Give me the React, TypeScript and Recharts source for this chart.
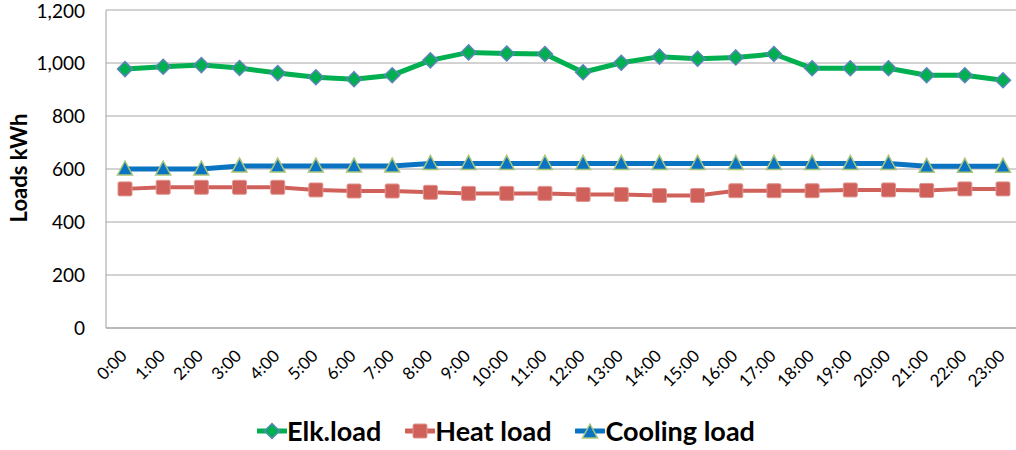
import { LineChart, Line, XAxis, YAxis, CartesianGrid, Label } from 'recharts';

const hours = [
  '0:00', '1:00', '2:00', '3:00', '4:00', '5:00', '6:00', '7:00', '8:00', '9:00', '10:00', '11:00',
  '12:00', '13:00', '14:00', '15:00', '16:00', '17:00', '18:00', '19:00', '20:00', '21:00', '22:00', '23:00',
];
const elkLoad = [977, 986, 992, 981, 962, 946, 939, 954, 1010, 1040, 1036, 1034, 965, 1001, 1024, 1016, 1021, 1034, 980, 980, 980, 954, 954, 935];
const heatLoad = [525, 531, 531, 531, 531, 521, 517, 517, 512, 508, 508, 508, 504, 504, 500, 500, 518, 518, 518, 521, 521, 519, 525, 525];
const coolingLoad = [600, 600, 600, 611, 611, 611, 611, 611, 621, 621, 621, 621, 621, 621, 621, 621, 621, 621, 621, 621, 621, 610, 610, 610];
const yTicks = [0, 200, 400, 600, 800, 1000, 1200];

const data = hours.map((h, i) => ({ hour: h, elk: elkLoad[i], heat: heatLoad[i], cooling: coolingLoad[i] }));

const FONT = 'Lato, "Open Sans", sans-serif';
const GREEN = '#00B050';
const RED = '#CF615A';
const BLUE = '#0A74C2';

function Diamond({ cx, cy }: any) {
  if (cx == null || cy == null) return null;
  const r = 7.5;
  return (
    <polygon
      points={`${cx},${cy - r} ${cx + r},${cy} ${cx},${cy + r} ${cx - r},${cy}`}
      fill={GREEN}
      stroke="#5B84B8"
      strokeWidth={1.5}
    />
  );
}

function Square({ cx, cy }: any) {
  if (cx == null || cy == null) return null;
  const s = 14;
  return <rect x={cx - s / 2} y={cy - s / 2} width={s} height={s} rx={1.5} fill={RED} stroke="#E09590" strokeWidth={1} />;
}

function Triangle({ cx, cy }: any) {
  if (cx == null || cy == null) return null;
  const w = 7.5;
  return (
    <polygon
      points={`${cx},${cy - 8} ${cx + w},${cy + 6} ${cx - w},${cy + 6}`}
      fill={BLUE}
      stroke="#A9C57A"
      strokeWidth={1.5}
    />
  );
}

function HourTick({ x, y, payload }: any) {
  return (
    <g transform={`translate(${x + 3},${y + 21})`}>
      <text x={0} y={0} textAnchor="end" transform="rotate(-45)" fontSize={17} fill="#000" fontFamily={FONT}>
        {payload.value}
      </text>
    </g>
  );
}

function YTitle() {
  return (
    <text
      x={27}
      y={168}
      transform="rotate(-90, 27, 168)"
      textAnchor="middle"
      fontSize={22}
      fontWeight={700}
      fill="#000"
      fontFamily={FONT}
    >
      Loads kWh
    </text>
  );
}

function LegendItem({ color, marker, label }: { color: string; marker: 'diamond' | 'square' | 'triangle'; label: string }) {
  return (
    <div style={{ display: 'flex', alignItems: 'center', marginRight: 24 }}>
      <svg width={30} height={20}>
        <line x1={1} y1={10} x2={29} y2={10} stroke={color} strokeWidth={5} strokeLinecap="round" />
        {marker === 'diamond' && <Diamond cx={15} cy={10} />}
        {marker === 'square' && <Square cx={15} cy={10} />}
        {marker === 'triangle' && <Triangle cx={15} cy={11} />}
      </svg>
      <span style={{ fontFamily: FONT, fontWeight: 700, fontSize: 27, color: '#000', lineHeight: '30px' }}>{label}</span>
    </div>
  );
}

export default function App() {
  return (
    <div style={{ position: 'absolute', left: 0, top: 0, width: 1016, height: 450, overflow: 'hidden', background: '#fff' }}>
      <LineChart width={1030} height={450} data={data} margin={{ top: 10, right: 8, left: 0, bottom: 0 }}>
        <CartesianGrid horizontal vertical={false} stroke="#A6A6A6" strokeWidth={1} />
        <XAxis
          dataKey="hour"
          height={122}
          interval={0}
          padding={{ left: 19, right: 19 }}
          tick={<HourTick />}
          tickLine={false}
          axisLine={{ stroke: '#A0A0A0' }}
        />
        <YAxis
          width={106}
          domain={[0, 1200]}
          ticks={yTicks}
          tickFormatter={(v: number) => v.toLocaleString('en-US')}
          tickLine={false}
          tickSize={0}
          tickMargin={21}
          axisLine={{ stroke: '#A0A0A0' }}
          tick={{ fontSize: 19, fill: '#000', fontFamily: FONT }}
        >
          <Label content={<YTitle />} />
        </YAxis>
        <Line dataKey="elk" stroke={GREEN} strokeWidth={5} dot={<Diamond />} isAnimationActive={false} />
        <Line dataKey="heat" stroke={RED} strokeWidth={4} dot={<Square />} isAnimationActive={false} />
        <Line dataKey="cooling" stroke={BLUE} strokeWidth={5} dot={<Triangle />} isAnimationActive={false} />
      </LineChart>
      <div style={{ position: 'absolute', left: 257, top: 416, display: 'flex', alignItems: 'center' }}>
        <LegendItem color={GREEN} marker="diamond" label="Elk.load" />
        <LegendItem color={RED} marker="square" label="Heat load" />
        <LegendItem color={BLUE} marker="triangle" label="Cooling load" />
      </div>
    </div>
  );
}
